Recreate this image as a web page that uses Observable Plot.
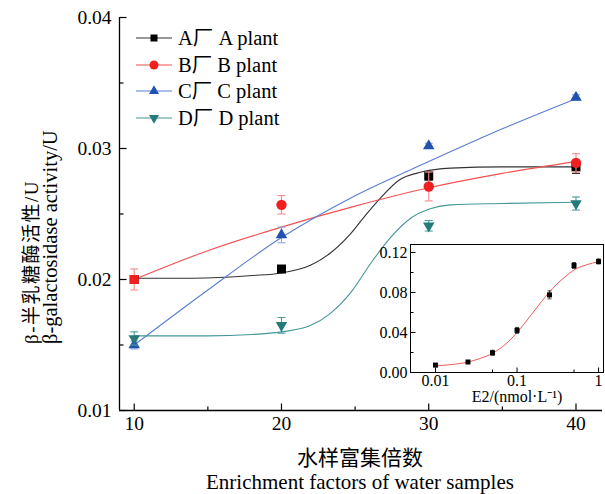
<!DOCTYPE html>
<html>
<head>
<meta charset="utf-8">
<script src="https://cdn.jsdelivr.net/npm/d3@7"></script>
<script src="https://cdn.jsdelivr.net/npm/@observablehq/plot@0.6"></script>
<style>
  html, body { margin: 0; padding: 0; background: #fff; }
  #wrap { position: relative; width: 605px; height: 494px; overflow: hidden;
    font-family: "Liberation Serif", "Noto Sans CJK SC", serif; color: #000; }
  #wrap svg text { font-family: "Liberation Serif", "Noto Sans CJK SC", serif !important; }
  .abs { position: absolute; white-space: nowrap; }
  #legend { position: absolute; left: 134px; top: 25px; font-size: 20.5px; line-height: 26.5px; }
  #legend .row { display: flex; align-items: center; height: 26.5px; }
  #legend svg { margin-right: 4px; }
</style>
</head>
<body>
<div id="wrap"></div>
<script>
// ---------- data ----------
const factors = [10, 20, 30, 40];
const seriesNames = ["A厂 A plant", "B厂 B plant", "C厂 C plant", "D厂 D plant"];
const valuesA = [0.0200, 0.0208, 0.0279, 0.0286];
const errorsA = [0.0003, 0.0002, 0.0003, 0.0005];
const valuesB = [0.0200, 0.0257, 0.0271, 0.0289];
const errorsB = [0.0008, 0.0007, 0.0011, 0.0007];
const valuesC = [0.0150, 0.0234, 0.0302, 0.0339];
const errorsC = [0.0003, 0.0006, 0.0002, 0.0002];
const valuesD = [0.0155, 0.0165, 0.0241, 0.0258];
const errorsD = [0.0005, 0.0006, 0.0004, 0.0005];

// fitted curves
const fitAx = [10, 14, 18, 20, 22, 23.3, 24.7, 25.7, 26.7, 28, 29.5, 31.5, 35, 40];
const fitAy = [0.0201, 0.0201, 0.0203, 0.0205, 0.0211, 0.0220, 0.0235, 0.0249, 0.0262, 0.0276, 0.0282, 0.0285, 0.0286, 0.0286];
const fitBx = [10, 15, 20, 25, 30, 35, 40];
const fitBy = [0.0200, 0.0222, 0.0240, 0.0256, 0.0270, 0.0281, 0.0290];
const fitCx = [10, 15, 20, 25, 30, 35, 40];
const fitCy = [0.0150, 0.0192, 0.0232, 0.0264, 0.0290, 0.0315, 0.0338];
const fitDx = [10, 15, 18, 20, 22, 23.3, 24.7, 26.1, 27.4, 28.8, 30.1, 31.5, 35, 40];
const fitDy = [0.0157, 0.0157, 0.0158, 0.0160, 0.0165, 0.0174, 0.0190, 0.0213, 0.0232, 0.0247, 0.0254, 0.0257, 0.0258, 0.0259];

const xTicks = [10, 20, 30, 40];
const xMinorTicks = [15, 25, 35];
const yTicks = [0.01, 0.02, 0.03, 0.04];
const yMinorTicks = [0.015, 0.025, 0.035];

// inset
const e2Conc = [0.01, 0.025, 0.05, 0.1, 0.25, 0.5, 1];
const e2Values = [0.0074, 0.0105, 0.0197, 0.0421, 0.0776, 0.107, 0.111];
const e2Errors = [0.0015, 0.0015, 0.0025, 0.003, 0.004, 0.003, 0.0025];
const e2FitX = [0.01, 0.015, 0.025, 0.035, 0.05, 0.075, 0.1, 0.15, 0.2, 0.25, 0.3, 0.4, 0.5, 0.7, 1];
const e2FitY = [0.0066, 0.0078, 0.0105, 0.0140, 0.0192, 0.0295, 0.0400, 0.0580, 0.0710, 0.0805, 0.0875, 0.0965, 0.1025, 0.1075, 0.1110];
const insetXTicks = [0.01, 0.1, 1];
const insetXMinor = [0.05, 0.5];
const insetYTicks = [0, 0.04, 0.08, 0.12];
const insetYMinor = [0.02, 0.06, 0.10];

// ---------- helpers ----------
const font = '"Liberation Serif", "Noto Sans CJK SC", serif';
const hTick = len => ({draw(c) { c.moveTo(0, 0); c.lineTo(len, 0); }});
const vTick = len => ({draw(c) { c.moveTo(0, 0); c.lineTo(0, -len); }});
const cap = w => ({draw(c) { c.moveTo(-w / 2, 0); c.lineTo(w / 2, 0); }});
const triDown = s => ({draw(c) { const h = s * 0.866; c.moveTo(-s / 2, -h / 3); c.lineTo(s / 2, -h / 3); c.lineTo(0, 2 * h / 3); c.closePath(); }});
const triUp = s => ({draw(c) { const h = s * 0.866; c.moveTo(-s / 2, h / 3); c.lineTo(s / 2, h / 3); c.lineTo(0, -2 * h / 3); c.closePath(); }});
const sq = s => ({draw(c) { c.rect(-s / 2, -s / 2, s, s); }});
const circ = r => ({draw(c) { c.moveTo(r, 0); c.arc(0, 0, r, 0, 2 * Math.PI); }});

const rows = (vals, errs) => factors.map((x, i) => ({x, y: vals[i], lo: vals[i] - errs[i], hi: vals[i] + errs[i], i}));
const fit = (xs, ys) => xs.map((x, i) => ({x, y: ys[i]}));

const series = [
  {name: seriesNames[0], data: rows(valuesA, errorsA), fit: fit(fitAx, fitAy), mark: "#000", line: "#333", err: "#222", sym: sq(9), lsym: sq(7)},
  {name: seriesNames[1], data: rows(valuesB, errorsB), fit: fit(fitBx, fitBy), mark: "#f02020", line: "#f25050", err: "#f38a8a", sym: circ(5.2), lsym: circ(4.5)},
  {name: seriesNames[2], data: rows(valuesC, errorsC), fit: fit(fitCx, fitCy), mark: "#2252b0", line: "#5a7cd2", err: "#8ea6dc", sym: triUp(11.5), lsym: triUp(10)},
  {name: seriesNames[3], data: rows(valuesD, errorsD), fit: fit(fitDx, fitDy), mark: "#257a7a", line: "#449797", err: "#4f9c9c", sym: triDown(11.5), lsym: triDown(10)}
];

const xMin = 9, yMin = 0.01;
const marks = [];
for (const s of series) {
  marks.push(Plot.line(s.fit, {x: "x", y: "y", stroke: s.line, strokeWidth: 1.1, curve: "monotone-x"}));
}
for (const s of series) {
  marks.push(Plot.ruleX(s.data, {x: "x", y1: "lo", y2: "hi", stroke: s.err, strokeWidth: 1.1}));
  marks.push(Plot.dot(s.data, {x: "x", y: "lo", symbol: cap(8), stroke: s.err, fill: "none", strokeWidth: 1.1}));
  marks.push(Plot.dot(s.data, {x: "x", y: "hi", symbol: cap(8), stroke: s.err, fill: "none", strokeWidth: 1.1}));
  if (s === series[1]) {
    marks.push(Plot.dot(s.data, {filter: d => d.i === 0, x: "x", y: "y", symbol: sq(9), fill: s.mark, stroke: "none"}));
    marks.push(Plot.dot(s.data, {filter: d => d.i > 0, x: "x", y: "y", symbol: s.sym, fill: s.mark, stroke: "none"}));
  } else {
    marks.push(Plot.dot(s.data, {x: "x", y: "y", symbol: s.sym, fill: s.mark, stroke: "none"}));
  }
}

const main = Plot.plot({
  width: 605, height: 494,
  marginLeft: 119, marginTop: 17, marginRight: 3, marginBottom: 84,
  x: {domain: [xMin, 41.8]},
  y: {domain: [yMin, 0.04]},
  style: {fontFamily: font, fontSize: "19px", color: "#000", background: "transparent", overflow: "visible"},
  marks: [
    Plot.axisY({ticks: yTicks, tickSize: 0, tickPadding: 8, tickFormat: d3.format(".2f"), label: null, fontSize: 19.5, fontFamily: font}),
    Plot.axisX({ticks: xTicks, tickSize: 0, tickPadding: 6, tickFormat: d => String(d), label: null, fontSize: 19.5, fontFamily: font}),
    ...marks,
    Plot.dot(yTicks, {x: () => xMin, y: d => d, symbol: hTick(7), stroke: "#000", strokeWidth: 1.2}),
    Plot.dot(yMinorTicks, {x: () => xMin, y: d => d, symbol: hTick(4), stroke: "#000", strokeWidth: 1.2}),
    Plot.dot(xTicks, {x: d => d, y: () => yMin, symbol: vTick(7), stroke: "#000", strokeWidth: 1.2}),
    Plot.dot(xMinorTicks, {x: d => d, y: () => yMin, symbol: vTick(4), stroke: "#000", strokeWidth: 1.2}),
    Plot.ruleX([xMin], {stroke: "#000", strokeWidth: 1.3}),
    Plot.ruleY([yMin], {stroke: "#000", strokeWidth: 1.3})
  ]
});
main.style.position = "absolute";
main.style.left = "0px";
main.style.top = "0px";

const e2Rows = e2Conc.map((x, i) => ({x, y: e2Values[i], lo: e2Values[i] - e2Errors[i], hi: e2Values[i] + e2Errors[i]}));
const e2Fit = e2FitX.map((x, i) => ({x, y: e2FitY[i]}));
const ixMin = 0.00493, iyMin = 0;
const inset = Plot.plot({
  width: 245, height: 169,
  marginLeft: 50, marginTop: 8, marginRight: 2, marginBottom: 33,
  x: {type: "log", domain: [ixMin, 1.15]},
  y: {domain: [iyMin, 0.128]},
  style: {fontFamily: font, fontSize: "16px", color: "#000", background: "transparent", overflow: "visible"},
  marks: [
    Plot.axisY({ticks: insetYTicks, tickSize: 0, tickPadding: 3, tickFormat: d3.format(".2f"), label: null, fontSize: 16, fontFamily: font}),
    Plot.axisX({ticks: insetXTicks, tickSize: 0, tickPadding: 2, tickFormat: d => String(d), label: null, fontSize: 16, fontFamily: font}),
    Plot.line(e2Fit, {x: "x", y: "y", stroke: "#f25a5a", strokeWidth: 1, curve: "monotone-x"}),
    Plot.ruleX(e2Rows, {x: "x", y1: "lo", y2: "hi", stroke: "#333", strokeWidth: 0.9}),
    Plot.dot(e2Rows, {x: "x", y: "lo", symbol: cap(4), stroke: "#333", fill: "none", strokeWidth: 0.9}),
    Plot.dot(e2Rows, {x: "x", y: "hi", symbol: cap(4), stroke: "#333", fill: "none", strokeWidth: 0.9}),
    Plot.dot(e2Rows, {x: "x", y: "y", symbol: sq(5), fill: "#000", stroke: "none"}),
    Plot.dot(insetYTicks, {x: () => ixMin, y: d => d, symbol: hTick(5), stroke: "#000", strokeWidth: 1}),
    Plot.dot(insetYMinor, {x: () => ixMin, y: d => d, symbol: hTick(3), stroke: "#000", strokeWidth: 1}),
    Plot.dot(insetXTicks, {x: d => d, y: () => iyMin, symbol: vTick(5), stroke: "#000", strokeWidth: 1}),
    Plot.dot(insetXMinor, {x: d => d, y: () => iyMin, symbol: vTick(3), stroke: "#000", strokeWidth: 1}),
    Plot.frame({stroke: "#000", strokeWidth: 1})
  ]
});
inset.style.position = "absolute";
inset.style.left = "360px";
inset.style.top = "236px";

const wrap = document.getElementById("wrap");
wrap.appendChild(main);
wrap.appendChild(inset);

function addText(txt, css) {
  const d = document.createElement("div");
  d.className = "abs";
  d.textContent = txt;
  Object.assign(d.style, css);
  wrap.appendChild(d);
  return d;
}
addText("水样富集倍数", {left: "0px", width: "720px", textAlign: "center", top: "447px", fontSize: "21px", lineHeight: "23px"});
addText("Enrichment factors of water samples", {left: "0px", width: "720px", textAlign: "center", top: "471px", fontSize: "21px", lineHeight: "23px"});
// rotated y-axis titles, both starting at the same bottom point
addText("β-半乳糖酶活性/U", {left: "22px", top: "344px", fontSize: "19px", lineHeight: "20px", letterSpacing: "1.5px", transformOrigin: "0 0", transform: "rotate(-90deg)"});
addText("β-galactosidase activity/U", {left: "40px", top: "344px", fontSize: "20.5px", lineHeight: "20px", transformOrigin: "0 0", transform: "rotate(-90deg)"});
addText("E2/(nmol·L⁻¹)", {left: "410px", width: "214px", textAlign: "center", top: "388px", fontSize: "16px", lineHeight: "18px"});

const legend = document.createElement("div");
legend.id = "legend";
for (const s of series) {
  const row = document.createElement("div");
  row.className = "row";
  const svg = d3.create("svg").attr("width", 40).attr("height", 14);
  svg.append("line").attr("x1", 2).attr("x2", 38).attr("y1", 7).attr("y2", 7).attr("stroke", s.line).attr("stroke-width", 1.1);
  svg.append("path").attr("transform", "translate(20,7)").attr("d", d3.symbol(s.lsym)()).attr("fill", s.mark);
  row.appendChild(svg.node());
  const t = document.createElement("span");
  t.textContent = s.name;
  row.appendChild(t);
  legend.appendChild(row);
}
wrap.appendChild(legend);
</script>
</body>
</html>
